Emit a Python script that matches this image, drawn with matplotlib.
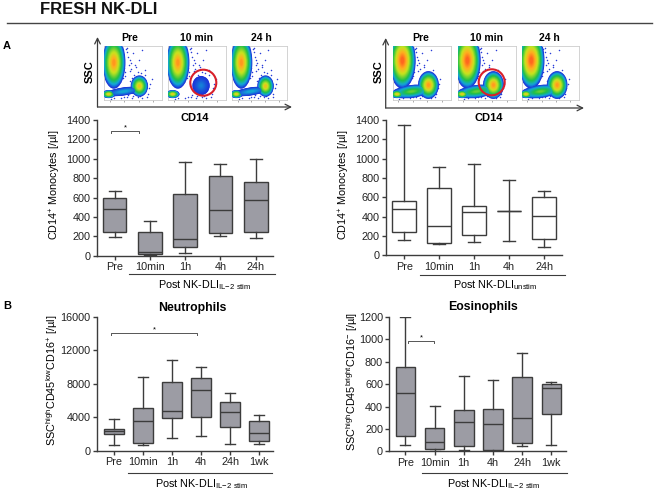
import matplotlib
matplotlib.use('Agg')
import matplotlib.pyplot as plt
from matplotlib.colors import LinearSegmentedColormap
from matplotlib.patches import Ellipse

plt.rcParams['font.family'] = ['Liberation Sans', 'DejaVu Sans']
plt.rcParams['mathtext.fontset'] = 'custom'
plt.rcParams['mathtext.rm'] = 'Liberation Sans'
plt.rcParams['mathtext.default'] = 'rm'

W, H = 655, 494
DARK = '#3c3c3c'
GRAY = '#9c9ca4'

# five-number summaries: low whisker, q1, median, q3, high whisker
labels_a = ['Pre', '10min', '1h', '4h', '24h']
labels_b = ['Pre', '10min', '1h', '4h', '24h', '1wk']

stim_pre = [190, 240, 480, 595, 665]
stim_10m = [5, 15, 35, 240, 360]
stim_1h = [30, 85, 170, 635, 965]
stim_4h = [205, 230, 470, 825, 945]
stim_24h = [180, 240, 575, 760, 995]

unstim_pre = [160, 245, 475, 560, 1350]
unstim_10m = [120, 125, 305, 695, 915]
unstim_1h = [135, 215, 445, 510, 945]
unstim_4h = [150, 460, 460, 460, 775]
unstim_24h = [90, 165, 405, 600, 665]

neut_pre = [700, 2000, 2350, 2600, 3750]
neut_10m = [700, 950, 3500, 5150, 8750]
neut_1h = [1500, 3850, 4800, 8250, 10800]
neut_4h = [1700, 4000, 7300, 8700, 10050]
neut_24h = [750, 2850, 4600, 5800, 6900]
neut_1wk = [800, 1100, 2100, 3500, 4300]

eos_pre = [55, 135, 520, 750, 1200]
eos_10m = [5, 20, 80, 210, 405]
eos_1h = [10, 45, 260, 370, 670]
eos_4h = [5, 15, 245, 380, 635]
eos_24h = [45, 75, 295, 665, 875]
eos_1wk = [60, 330, 565, 600, 620]

# flow panels: density blobs as (x, y, width, height, angle, peak density)
gran = (0.17, 0.70, 0.40, 0.98, 0, 0.86)
gran_big = (0.17, 0.74, 0.46, 1.06, 0, 1.0)
lymph = (0.08, 0.11, 0.24, 0.15, 0, 0.68)
bridge = (0.34, 0.16, 0.66, 0.15, 9, 0.16)
bridge_big = (0.33, 0.16, 0.72, 0.24, 8, 0.42)
mono = (0.61, 0.26, 0.30, 0.40, 0, 0.72)
mono_big = (0.62, 0.28, 0.36, 0.52, 0, 0.84)
mono_10min = (0.57, 0.27, 0.30, 0.36, 0, 0.1)

flow_stim = {
    'Pre': [gran, bridge, lymph, mono],
    '10 min': [gran, lymph, mono_10min],
    '24 h': [gran, bridge, lymph, mono],
}
flow_unstim = {
    'Pre': [gran_big, bridge_big, lymph, mono_big],
    '10 min': [gran_big, bridge_big, lymph, mono_big],
    '24 h': [gran_big, bridge_big, lymph, mono_big],
}
density_colours = [(0, '#1c2fd8'), (0.14, '#12a8d8'), (0.3, '#20c048'), (0.55, '#c8e41e'),
                   (0.75, '#ffb01e'), (1, '#ff5a1e')]
speck_x = [0.38, 0.42, 0.46, 0.5, 0.55, 0.6, 0.66, 0.7, 0.44, 0.52, 0.58, 0.36, 0.4, 0.48, 0.3, 0.25, 0.62, 0.75,
           0.8, 0.34, 0.4, 0.43, 0.47, 0.37, 0.33, 0.45, 0.52, 0.56, 0.28, 0.23, 0.18, 0.12, 0.35, 0.42, 0.5, 0.58,
           0.66, 0.74, 0.78, 0.82, 0.4, 0.44, 0.49, 0.54, 0.64, 0.7]
speck_y = [0.95, 0.8, 0.7, 0.88, 0.62, 0.75, 0.93, 0.56, 0.55, 0.47, 0.52, 0.45, 0.06, 0.04, 0.03, 0.38, 0.08, 0.12,
           0.3, 0.6, 0.9, 0.66, 0.58, 0.52, 0.42, 0.36, 0.34, 0.4, 0.33, 0.3, 0.03, 0.02, 0.05, 0.1, 0.07, 0.05,
           0.03, 0.06, 0.22, 0.4, 0.98, 0.75, 0.42, 0.66, 0.5, 0.46]

density = LinearSegmentedColormap.from_list('density', density_colours)
n_levels = 24
flow_top, flow_bottom = 46.5, 100
flow_lefts = [[104, 162], [168, 226], [232, 287]]
flow_rights = [[392.5, 450.5], [457.5, 515.5], [521.5, 579]]
names_left = [130, 196.7, 261]
names_right = [420.7, 487, 549.7]


def px_axes(fig, left, right, top, bottom):
    return fig.add_axes([left / W, 1 - bottom / H, (right - left) / W, (bottom - top) / H])


def flow_panel(fig, left, right, blobs):
    ax = px_axes(fig, left, right, flow_top, flow_bottom)
    ax.set_xlim(0, 1)
    ax.set_ylim(0, 1)
    ax.set_xticks([0.1, 0.35, 0.6, 0.85])
    ax.set_yticks([])
    ax.tick_params(length=1.5, width=0.5, labelbottom=False, color='#888888')
    for s in ax.spines.values():
        s.set_color('#cccccc')
        s.set_linewidth(0.6)
    ax.scatter(speck_x, speck_y, s=1.2, color='#2a3ed8', linewidths=0, zorder=1)
    # draw outer levels first so that neighbouring blobs run together
    for i in range(n_levels):
        t = i / n_levels
        for x, y, w, h, ang, peak in blobs:
            f = 1 - 0.92 * t
            ax.add_patch(Ellipse((x, y), w * f, h * f, angle=ang, color=density(peak * t), lw=0, zorder=2 + i))


def box_panel(fig, left, right, top, bottom, xlim, ymax, yticks, data, names, fill):
    ax = px_axes(fig, left, right, top, bottom)
    stats = [dict(whislo=d[0], q1=d[1], med=d[2], q3=d[3], whishi=d[4], fliers=[], label=n)
             for d, n in zip(data, names)]
    ax.bxp(stats, positions=range(len(stats)), widths=0.67, patch_artist=True, showfliers=False,
           boxprops=dict(facecolor=fill, edgecolor=DARK, linewidth=1),
           medianprops=dict(color=DARK, linewidth=1),
           whiskerprops=dict(color=DARK, linewidth=1),
           capprops=dict(color=DARK, linewidth=1), capwidths=0.34)
    ax.set_xlim(*xlim)
    ax.set_ylim(0, ymax)
    ax.set_yticks(yticks)
    ax.spines['top'].set_visible(False)
    ax.spines['right'].set_visible(False)
    for s in ['left', 'bottom']:
        ax.spines[s].set_color(DARK)
        ax.spines[s].set_linewidth(1)
    ax.tick_params(axis='both', labelsize=7.8, length=3, width=1, color=DARK, labelcolor='#222222', pad=1.5)
    ax.patch.set_alpha(0)
    return ax


fig = plt.figure(figsize=(6.55, 4.94), dpi=100)
ov = fig.add_axes([0, 0, 1, 1], zorder=5)
ov.set_xlim(0, W)
ov.set_ylim(H, 0)
ov.axis('off')

ov.text(40.5, 9, 'FRESH NK-DLI', fontsize=12, fontweight='bold', va='center', color='#111111')
ov.plot([7, 652], [23.5, 23.5], color='#444444', lw=1)
ov.text(3, 46, 'A', fontsize=8, fontweight='bold', va='center')
ov.text(3, 306, 'B', fontsize=8, fontweight='bold', va='center')

# flow cytometry strips
for (l, r), tx, name in zip(flow_lefts, names_left, flow_stim):
    flow_panel(fig, l, r, flow_stim[name])
    ov.text(tx, 38, name, fontsize=7.5, fontweight='bold', ha='center', va='center')
for (l, r), tx, name in zip(flow_rights, names_right, flow_unstim):
    flow_panel(fig, l, r, flow_unstim[name])
    ov.text(tx, 38, name, fontsize=7.5, fontweight='bold', ha='center', va='center')

for x0, x1, ybase, ytop, ssc_x in [(97.5, 292, 107, 37, 90), (385.7, 584, 108, 38, 379)]:
    ov.annotate('', xy=(x0, ytop), xytext=(x0, ybase), arrowprops=dict(arrowstyle='->', color=DARK, lw=0.9, shrinkA=0, shrinkB=0))
    ov.annotate('', xy=(x1, ybase), xytext=(x0, ybase), arrowprops=dict(arrowstyle='->', color=DARK, lw=0.9, shrinkA=0, shrinkB=0))
    ov.text(ssc_x, 72, 'SSC', rotation=90, fontsize=8, fontweight='bold', ha='center', va='center')

ov.add_patch(Ellipse((203.3, 82.7), 26, 26, fill=False, ec='#d8202a', lw=1.5))
ov.add_patch(Ellipse((491.7, 82.3), 26, 26, fill=False, ec='#d8202a', lw=1.5))

# box plots
yt_mono = [0, 200, 400, 600, 800, 1000, 1200, 1400]
box_panel(fig, 97, 273, 120, 255.7, (-0.5, 4.49), 1400, yt_mono,
          [stim_pre, stim_10m, stim_1h, stim_4h, stim_24h], labels_a, GRAY)
box_panel(fig, 386, 561.7, 120, 255.3, (-0.52, 4.5), 1400, yt_mono,
          [unstim_pre, unstim_10m, unstim_1h, unstim_4h, unstim_24h], labels_a, 'white')
box_panel(fig, 96.7, 273, 316.7, 450.7, (-0.6, 5.48), 16000, [0, 4000, 8000, 12000, 16000],
          [neut_pre, neut_10m, neut_1h, neut_4h, neut_24h, neut_1wk], labels_b, GRAY)
box_panel(fig, 389.3, 566, 317, 451.3, (-0.55, 5.5), 1200, [0, 200, 400, 600, 800, 1000, 1200],
          [eos_pre, eos_10m, eos_1h, eos_4h, eos_24h, eos_1wk], labels_b, GRAY)

# titles
ov.text(195, 118, 'CD14', fontsize=8, fontweight='bold', ha='center', va='center')
ov.text(489, 118, 'CD14', fontsize=8, fontweight='bold', ha='center', va='center')
ov.text(192, 308, 'Neutrophils', fontsize=8.8, fontweight='bold', ha='center', va='center')
ov.text(483, 307, 'Eosinophils', fontsize=8.8, fontweight='bold', ha='center', va='center')

# y labels
ov.text(55, 185, r'CD14$^{+}$ Monocytes [/µl]', rotation=90, fontsize=7.8, ha='center', va='center')
ov.text(344, 185, r'CD14$^{+}$ Monocytes [/µl]', rotation=90, fontsize=7.8, ha='center', va='center')
ov.text(52, 380, r'SSC$^{high}$CD45$^{low}$CD16$^{+}$ [/µl]', rotation=90, fontsize=7.8, ha='center', va='center')
ov.text(352, 381, r'SSC$^{high}$CD45$^{bright}$CD16$^{-}$ [/µl]', rotation=90, fontsize=7.8, ha='center', va='center')

# group lines under the ticks
groups = [(128.7, 275, 274, 205, 285, r'Post NK-DLI$_{IL\mathrm{-}2\ stim}$'),
          (419.5, 565, 275, 495.5, 285, r'Post NK-DLI$_{unstim}$'),
          (127.7, 271.7, 473, 202, 484, r'Post NK-DLI$_{IL\mathrm{-}2\ stim}$'),
          (421.7, 566.7, 473, 494, 484, r'Post NK-DLI$_{IL\mathrm{-}2\ stim}$')]
for x0, x1, y, tx, ty, s in groups:
    ov.plot([x0, x1], [y, y], color=DARK, lw=0.8)
    ov.text(tx, ty, s, fontsize=7.8, ha='center', va='center')

# significance brackets
for x0, x1, y in [(111, 139.3, 131), (111, 197, 332.7), (408, 434, 340.7)]:
    ov.plot([x0, x0, x1, x1], [y + 2, y, y, y + 2], color='#555555', lw=0.7)
    ov.text((x0 + x1) / 2, y - 3, '*', fontsize=5.5, ha='center', va='center')

fig.savefig('out.png', dpi=100)
